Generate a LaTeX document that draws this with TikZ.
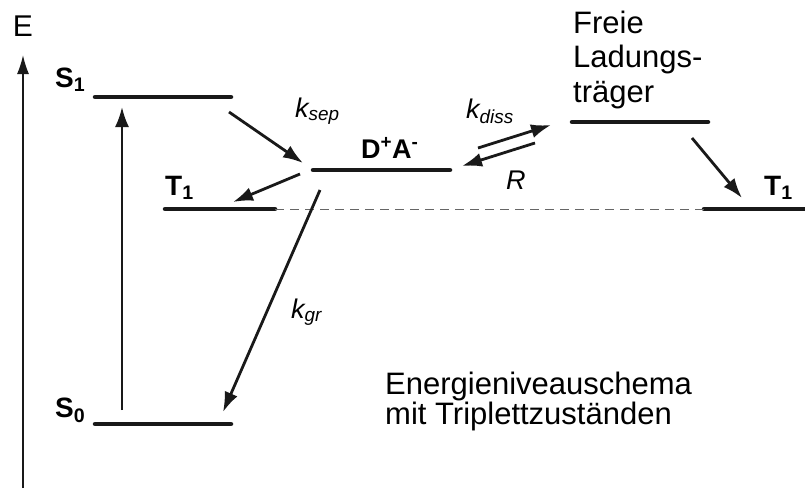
\documentclass[tikz,border=0pt]{standalone}
\usepackage{fontspec}
\setmainfont{Liberation Sans}
\usetikzlibrary{arrows.meta}

\begin{document}
\begin{tikzpicture}[%
  x=1pt, y=-1pt,%
  level/.style={line width=4.5pt, line cap=round, draw=black!90},%
  arrow/.style={-{Latex[length=20pt,width=14pt]}, line width=2.8pt, draw=black!90},%
  axis/.style={-{Latex[length=19pt,width=12pt]}, line width=1.6pt, draw=black!90},%
  guide/.style={dashed, dash pattern=on 9pt off 6pt, line width=0.9pt, draw=black!60},%
  state/.style={inner sep=0pt, anchor=base west, font=\fontsize{28}{32}\selectfont\bfseries},%
  rate/.style={inner sep=0pt, anchor=base west, font=\fontsize{27}{30}\selectfont\itshape},%
  caption/.style={inner sep=0pt, anchor=base west, align=left}%
]
  \useasboundingbox (0,0) rectangle (805,488);

  % energy axis
  \coordinate (axisfoot) at (23,488);
  \coordinate (axistop) at (23,55);
  \draw[axis] (axisfoot) -- (axistop);
  \node[inner sep=0pt, font=\fontsize{30}{34}\selectfont] (energy) at (23,26) {E};

  % levels
  \coordinate (s1w) at (95,97);   \coordinate (s1e) at (231,97);
  \coordinate (s0w) at (95,424);  \coordinate (s0e) at (231,424);
  \coordinate (t1w) at (165,209); \coordinate (t1e) at (275,209);
  \coordinate (daw) at (313,170); \coordinate (dae) at (450,170);
  \coordinate (frw) at (572,122); \coordinate (fre) at (708,122);
  \coordinate (t2w) at (704,209); \coordinate (t2e) at (810,209);
  \draw[level] (s1w) -- (s1e);
  \draw[level] (s0w) -- (s0e);
  \draw[level] (t1w) -- (t1e);
  \draw[level] (daw) -- (dae);
  \draw[level] (frw) -- (fre);
  \draw[level] (t2w) -- (t2e);
  \draw[guide] (t1e) -- (t2w);

  \node[state] (S1) at (55,87) {S\textsubscript{1}};
  \node[state] (S0) at (55,417) {S\textsubscript{0}};
  \node[state] (T1) at (165,195) {T\textsubscript{1}};
  \node[state] (T1free) at (764,195) {T\textsubscript{1}};
  \node[state, font=\fontsize{27}{32}\selectfont\bfseries] (DA) at (361,158) {D\textsuperscript{+}A\textsuperscript{-}};
  \node[caption, font=\fontsize{31}{34.5}\selectfont] (free) at (573,102) {Freie\\Ladungs-\\träger};
  \node[caption, font=\fontsize{31}{28}\selectfont] (scheme) at (385,424) {Energieniveauschema\\mit Triplettzuständen};

  % transitions
  \coordinate (exfoot) at (122,410);  \coordinate (extip) at (122,107);
  \coordinate (sepfoot) at (229,112); \coordinate (septip) at (303,163);
  \coordinate (iscfoot) at (300,174); \coordinate (isctip) at (233,202);
  \coordinate (grfoot) at (320,190);  \coordinate (grtip) at (223,412);
  \coordinate (disfoot) at (478,148); \coordinate (distip) at (551,125);
  \coordinate (recfoot) at (535,143); \coordinate (rectip) at (462,166);
  \coordinate (trfoot) at (692,138);  \coordinate (trtip) at (742,198);
  \draw[arrow, line width=2.3pt] (exfoot) -- (extip);
  \draw[arrow] (sepfoot) -- (septip);
  \draw[arrow] (iscfoot) -- (isctip);
  \draw[arrow] (grfoot) -- (grtip);
  \draw[arrow] (disfoot) -- (distip);
  \draw[arrow] (recfoot) -- (rectip);
  \draw[arrow] (trfoot) -- (trtip);

  \node[rate] (ksep) at (295,117) {k\textsubscript{sep}};
  \node[rate] (kdiss) at (466,118) {k\textsubscript{diss}};
  \node[rate] (rec) at (506,189) {R};
  \node[rate] (kgr) at (291,318) {k\textsubscript{gr}};
\end{tikzpicture}
\end{document}
